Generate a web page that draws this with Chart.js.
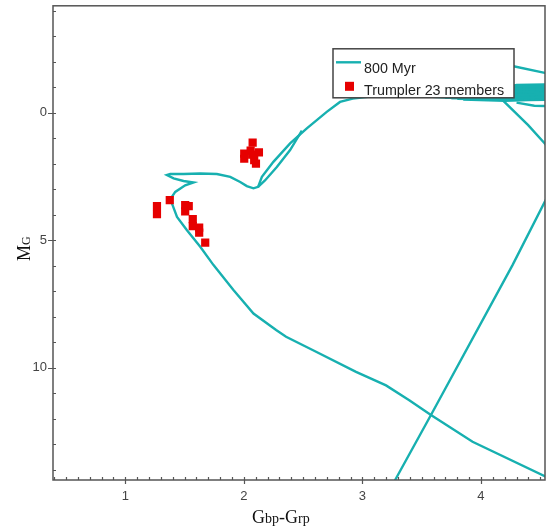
<!DOCTYPE html>
<html>
<head>
<meta charset="utf-8">
<script src="https://cdn.jsdelivr.net/npm/chart.js@4.4.0/dist/chart.umd.min.js"></script>
<style>
  html, body { margin: 0; padding: 0; background: #fff; }
  #wrap { position: relative; width: 552px; height: 530px; }
</style>
</head>
<body>
<div id="wrap"><canvas id="cmd"></canvas></div>
<script>
// 800 Myr isochrone, [Gbp-Grp, MG] : main sequence -> hook -> subgiant -> giant branch
let isoMain = [
  [4.60, 14.40], [4.538, 14.25], [3.929, 12.90], [3.578, 11.85], [3.395, 11.27], [3.199, 10.69],
  [2.946, 10.16], [2.609, 9.37], [2.356, 8.78], [2.272, 8.52], [2.081, 7.87], [1.912, 6.95],
  [1.744, 5.97], [1.632, 5.25], [1.520, 4.60], [1.436, 4.08], [1.393, 3.55], [1.393, 3.29],
  [1.421, 3.10], [1.505, 2.84], [1.575, 2.73], [1.491, 2.67], [1.407, 2.57], [1.351, 2.44],
  [1.379, 2.40], [1.491, 2.40], [1.632, 2.38], [1.772, 2.40], [1.885, 2.51], [1.969, 2.71],
  [2.025, 2.87], [2.081, 2.96], [2.120, 2.90], [2.152, 2.51], [2.249, 1.92], [2.390, 1.20],
  [2.531, 0.61], [2.699, -0.04], [2.811, -0.43], [2.918, -0.56], [3.10, -0.66], [3.40, -0.68],
  [3.70, -0.60], [4.00, -0.62], [4.30, -0.70], [4.60, -0.75]
]
// second branch running next to the giant branch
let isoBranch = [[2.120, 2.90], [2.178, 2.65], [2.278, 2.12], [2.390, 1.46], [2.489, 0.70]]
// agb pieces on the right
let isoAgbLow = [[4.10, -0.62], [4.182, -0.50], [4.398, 0.48], [4.538, 1.20], [4.60, 1.55]]
let isoAgbHigh = [[3.95, -2.05], [4.275, -1.83], [4.538, -1.57], [4.60, -1.52]]
let isoCool = [[3.26, 14.55], [3.283, 14.34], [3.578, 11.85], [4.266, 5.97], [4.538, 3.49], [4.60, 2.93]]
// thick band of pulses at the top right
let isoBand = [
  [[3.70, -0.60], [4.05, -0.82], [4.30, -1.10], [4.60, -1.12]],
  [[3.70, -0.60], [4.05, -0.80], [4.30, -1.04], [4.60, -1.06]],
  [[3.70, -0.60], [4.05, -0.78], [4.30, -0.98], [4.60, -1.00]],
  [[3.70, -0.60], [4.05, -0.75], [4.30, -0.92], [4.60, -0.94]],
  [[3.70, -0.60], [4.05, -0.72], [4.30, -0.86], [4.60, -0.88]],
  [[3.70, -0.60], [4.10, -0.68], [4.30, -0.80], [4.60, -0.82]],
  [[3.70, -0.60], [4.10, -0.66], [4.30, -0.74], [4.60, -0.76]],
  [[3.75, -0.58], [4.15, -0.60], [4.35, -0.68], [4.60, -0.70]],
  [[3.75, -0.58], [4.15, -0.56], [4.35, -0.62], [4.60, -0.64]],
  [[3.80, -0.55], [4.20, -0.52], [4.40, -0.56], [4.60, -0.58]],
  [[3.85, -0.52], [4.20, -0.47], [4.40, -0.50], [4.60, -0.52]],
  [[4.30, -0.40], [4.45, -0.28], [4.60, -0.26]]
]

// Trumpler 23 members
let memberBpRp = [1.267, 1.267, 1.375, 1.505, 1.535, 1.505, 1.569, 1.569, 1.623, 1.623, 1.674,
                  2.074, 2.003, 2.003, 2.057, 2.070, 2.127, 2.102, 2.087]
let memberMg = [3.66, 3.97, 3.42, 3.62, 3.66, 3.86, 4.17, 4.44, 4.50, 4.70, 5.09,
                1.17, 1.60, 1.80, 1.48, 1.64, 1.55, 1.99, 1.85]

let xTicks = [1, 2, 3, 4]
let yTicks = [0, 5, 10]
let isoLabel = '800 Myr'
let memberLabel = 'Trumpler 23 members'

let teal = '#17b0b0'
let red = '#e60000'
let toPts = arr => arr.map(p => ({x: p[0], y: p[1]}))

let lineSet = (pts, label) => ({
  label: label,
  data: toPts(pts),
  showLine: true,
  borderColor: teal,
  borderWidth: 2.4,
  pointRadius: 0,
  tension: 0,
  clip: 0,
  order: 2
})

let datasets = [
  lineSet(isoMain, isoLabel),
  lineSet(isoBranch, ''),
  lineSet(isoAgbLow, ''),
  lineSet(isoAgbHigh, ''),
  lineSet(isoCool, '')
]
isoBand.forEach(b => datasets.push(lineSet(b, '')))
datasets.push({
  label: memberLabel,
  data: memberBpRp.map((v, i) => ({x: v, y: memberMg[i]})),
  pointStyle: 'rect',
  pointRadius: 5.8,
  pointBackgroundColor: red,
  pointBorderWidth: 0,
  showLine: false,
  clip: 0,
  order: 0
})

// frame, ticks, titles and legend box
let extras = {
  id: 'extras',
  afterDatasetsDraw(chart) {
    let ctx = chart.ctx
    let a = chart.chartArea
    let x = chart.scales.x, y = chart.scales.y
    ctx.save()
    ctx.strokeStyle = '#555'
    ctx.lineWidth = 1.5
    ctx.strokeRect(a.left, a.top, a.right - a.left, a.bottom - a.top)
    ctx.lineWidth = 1.2
    ctx.beginPath()
    for (let i = 4; i <= 45; i++) {
      let px = Math.round(x.getPixelForValue(i / 10)) + 0.5
      ctx.moveTo(px, a.bottom - 3)
      ctx.lineTo(px, a.bottom + (i % 10 == 0 ? 4 : 0))
    }
    for (let v = -4; v <= 14; v++) {
      let py = Math.round(y.getPixelForValue(v)) + 0.5
      ctx.moveTo(a.left + 3, py)
      ctx.lineTo(a.left - (v % 5 == 0 ? 5 : 0), py)
    }
    ctx.stroke()

    // axis titles
    ctx.fillStyle = '#111'
    ctx.textBaseline = 'alphabetic'
    let big = '18px "Liberation Serif", "Times New Roman", serif'
    let small = '14px "Liberation Serif", "Times New Roman", serif'
    let parts = [['G', big], ['bp', small], ['-', big], ['G', big], ['rp', small]]
    let tx = 252
    parts.forEach(p => {
      ctx.font = p[1]
      ctx.fillText(p[0], tx, 523)
      tx += ctx.measureText(p[0]).width
    })
    ctx.save()
    ctx.translate(30, 261)
    ctx.rotate(-Math.PI / 2)
    ctx.font = big
    ctx.fillText('M', 0, 0)
    let mw = ctx.measureText('M').width
    ctx.font = '12px "Liberation Serif", "Times New Roman", serif'
    ctx.fillText('G', mw, 0)
    ctx.restore()

    // legend
    let lx = a.left + 280, ly = a.top + 43, lw = 181, lh = 49
    ctx.fillStyle = '#fff'
    ctx.fillRect(lx, ly, lw, lh)
    ctx.strokeStyle = '#444'
    ctx.lineWidth = 1.5
    ctx.strokeRect(lx, ly, lw, lh)
    ctx.strokeStyle = teal
    ctx.lineWidth = 2.4
    ctx.beginPath()
    ctx.moveTo(lx + 3, ly + 13.5)
    ctx.lineTo(lx + 28, ly + 13.5)
    ctx.stroke()
    ctx.fillStyle = red
    ctx.fillRect(lx + 12, ly + 33, 9, 9)
    ctx.fillStyle = '#222'
    ctx.font = '14.3px "Liberation Sans", Arial, sans-serif'
    ctx.fillText(isoLabel, lx + 31, ly + 24)
    ctx.fillText(memberLabel, lx + 31, ly + 46)
    ctx.restore()
  }
}

let ctx = document.getElementById('cmd').getContext('2d')
let cmdChart = new Chart(ctx, {
  type: 'scatter',
  data: { datasets: datasets },
  options: {
    responsive: true,
    maintainAspectRatio: false,
    animation: false,
    layout: { padding: { left: 0, top: 5, right: 7, bottom: 0 } },
    plugins: { legend: { display: false }, tooltip: { enabled: false } },
    scales: {
      x: {
        type: 'linear',
        min: 0.39,
        max: 4.54,
        grid: { display: false, drawTicks: false },
        border: { display: false },
        afterBuildTicks: s => { s.ticks = xTicks.map(v => ({value: v})) },
        afterFit: s => { s.height = 50; s.paddingLeft = 0; s.paddingRight = 0 },
        ticks: { color: '#444', padding: 9, font: { family: '"Liberation Sans", Arial, sans-serif', size: 13 } }
      },
      y: {
        type: 'linear',
        reverse: true,
        min: -4.2,
        max: 14.4,
        grid: { display: false, drawTicks: false },
        border: { display: false },
        afterBuildTicks: s => { s.ticks = yTicks.map(v => ({value: v})) },
        afterFit: s => { s.width = 53; s.paddingTop = 0; s.paddingBottom = 0 },
        ticks: { color: '#444', padding: 6, font: { family: '"Liberation Sans", Arial, sans-serif', size: 13 } }
      }
    }
  },
  plugins: [extras]
})
</script>
</body>
</html>
